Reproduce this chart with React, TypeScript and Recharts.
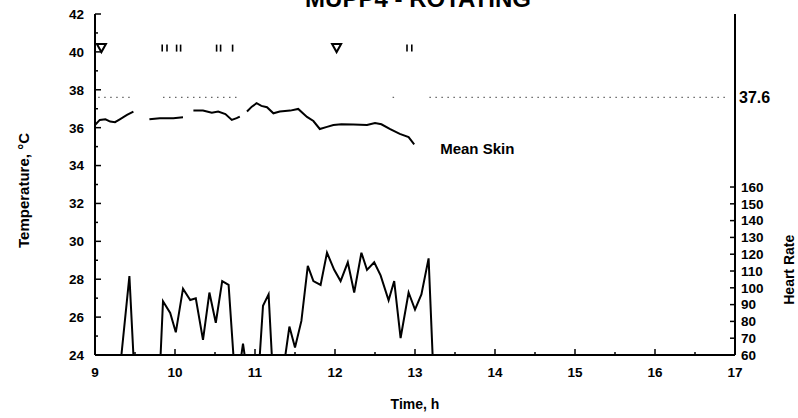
import React from "react";
import {
  ComposedChart,
  Line,
  Scatter,
  XAxis,
  YAxis,
  ReferenceLine,
  ReferenceDot,
} from "recharts";

const FONT = '"Liberation Sans", Arial, sans-serif';

// ---- tick labels ----
const timeTicks = [9, 9.5, 10, 10.5, 11, 11.5, 12, 12.5, 13, 13.5, 14, 14.5, 15, 15.5, 16, 16.5, 17];
const tempTicks = [24, 25, 26, 27, 28, 29, 30, 31, 32, 33, 34, 35, 36, 37, 38, 39, 40, 41, 42];
const hrTicks = [60, 70, 80, 90, 100, 110, 120, 130, 140, 150, 160];

// ---- heart rate (right axis) ----
const hrTimes = [
  9.0, 9.33, 9.43, 9.48, 9.82, 9.85, 9.94, 10.01, 10.1, 10.19, 10.26, 10.35, 10.43, 10.51, 10.59,
  10.67, 10.73, 10.83, 10.85, 10.87, 11.06, 11.1, 11.17, 11.21, 11.38, 11.43, 11.5, 11.58, 11.66,
  11.73, 11.82, 11.9, 11.99, 12.07, 12.16, 12.24, 12.33, 12.4, 12.49, 12.57, 12.67, 12.74, 12.82,
  12.92, 13.0, 13.08, 13.17, 13.22, 17.0,
];
const hrValues = [
  60, 60, 107, 60, 60, 92, 85, 73.5, 99.5, 92.7, 93.8, 69, 97.2, 79.2, 104,
  101.7, 60, 60, 66.8, 60, 60, 89.3, 96.1, 60, 60, 76.9, 64.5, 80.3, 113,
  104, 101.7, 120.9, 110.7, 104, 115.2, 97.2, 120.9, 110.7, 115.2, 107.4, 92.6, 104, 70.1,
  97.2, 87, 96.1, 117.5, 60, 60,
];

// ---- mean skin temperature (left axis), null = gap ----
const skinTimes = [
  9.0, 9.06, 9.13, 9.19, 9.25, 9.31, 9.4, 9.48, 9.58, 9.68, 9.81, 9.98, 10.1, 10.17, 10.23, 10.35,
  10.46, 10.54, 10.63, 10.71, 10.77, 10.81, 10.85, 10.9, 10.96, 11.02, 11.08, 11.15, 11.23, 11.31,
  11.44, 11.54, 11.65, 11.73, 11.81, 11.9, 11.98, 12.08, 12.23, 12.4, 12.5, 12.58, 12.69, 12.81,
  12.92, 12.99,
];
const skinValues = [
  36.14, 36.41, 36.44, 36.32, 36.29, 36.44, 36.67, 36.85, null, 36.44, 36.5, 36.5, 36.55, null, 36.9, 36.9,
  36.79, 36.85, 36.72, 36.41, 36.5, 36.58, null, 36.85, 37.11, 37.29, 37.15, 37.08, 36.76, 36.85,
  36.9, 36.99, 36.57, 36.35, 35.93, 36.04, 36.14, 36.18, 36.17, 36.14, 36.25, 36.18, 35.92, 35.67,
  35.5, 35.12,
];

// ---- 37.6 reference (dotted, with gaps) ----
const setpoint = 37.6;
const setpointTimes = [9.04, 9.44, 9.6, 9.85, 10.78, 11.0, 12.72, 12.78, 12.9, 13.18, 16.92];
const setpointValues = [37.6, 37.6, null, 37.6, 37.6, null, 37.6, 37.6, null, 37.6, 37.6];

// ---- event markers near 40 °C ----
const markerLevel = 40.2;
const triangleTimes = [9.08, 12.02];
const tickMarkTimes = [9.84, 9.9, 10.02, 10.07, 10.52, 10.57, 10.72, 12.9, 12.96];

const hrData = hrTimes.map((t, i) => ({ t, hr: hrValues[i] }));
const skinData = skinTimes.map((t, i) => ({ t, T: skinValues[i] }));
const setpointData = setpointTimes.map((t, i) => ({ t, T: setpointValues[i] }));
const triangleData = triangleTimes.map((t) => ({ t, v: markerLevel }));
const tickMarkData = tickMarkTimes.map((t) => ({ t, v: markerLevel }));

const BOTTOM_MARGIN = 12;
const LEFT_MARGIN = 11;
const RIGHT_MARGIN = 6;
const TICK_FONT = { fontFamily: FONT, fontWeight: 700, fontSize: 13.5 };

const BottomTick = (p: any) => {
  const v = p.payload.value;
  const axisY = p.y - BOTTOM_MARGIN;
  const major = Number.isInteger(v);
  return (
    <g>
      <line x1={p.x} x2={p.x} y1={axisY} y2={axisY - (major ? 6 : 3)} stroke="#000" strokeWidth={1.5} />
      {major && (
        <text x={p.x} y={p.y} dy="0.72em" textAnchor="middle" style={TICK_FONT} fill="#000">
          {v}
        </text>
      )}
    </g>
  );
};

const TopTick = (p: any) => {
  const v = p.payload.value;
  if (!Number.isInteger(v)) return <g />;
  return <line x1={p.x} x2={p.x} y1={p.y} y2={p.y + 5} stroke="#000" strokeWidth={1.5} />;
};

const LeftTick = (p: any) => {
  const v = p.payload.value;
  const axisX = p.x + LEFT_MARGIN;
  const major = v % 2 === 0;
  return (
    <g>
      <line x1={axisX} x2={axisX + (major ? 6 : 3)} y1={p.y} y2={p.y} stroke="#000" strokeWidth={1.5} />
      {major && (
        <text x={p.x} y={p.y} dy="0.36em" textAnchor="end" style={TICK_FONT} fill="#000">
          {v}
        </text>
      )}
    </g>
  );
};

const RightTick = (p: any) => {
  const v = p.payload.value;
  const axisX = p.x - RIGHT_MARGIN;
  return (
    <g>
      <line x1={axisX} x2={axisX - 5} y1={p.y} y2={p.y} stroke="#000" strokeWidth={1.5} />
      <text x={p.x} y={p.y} dy="0.36em" textAnchor="start" style={TICK_FONT} fill="#000">
        {v}
      </text>
    </g>
  );
};

const Triangle = (p: any) => (
  <polygon
    points={`${p.cx - 4.5},${p.cy - 4} ${p.cx + 4.5},${p.cy - 4} ${p.cx},${p.cy + 4}`}
    fill="#fff"
    stroke="#000"
    strokeWidth={2}
  />
);

const TickMark = (p: any) => (
  <line x1={p.cx} x2={p.cx} y1={p.cy - 3.5} y2={p.cy + 3.5} stroke="#000" strokeWidth={1.6} />
);

export default function App() {
  return (
    <div style={{ position: "absolute", left: 0, top: 0, width: 798, height: 418, background: "#fff", overflow: "hidden" }}>
      <ComposedChart width={798} height={418} margin={{ top: 14, right: 0, bottom: 7, left: 5 }}>
        <XAxis
          xAxisId="b"
          dataKey="t"
          type="number"
          domain={[9, 17]}
          ticks={timeTicks}
          interval={0}
          height={56}
          tickSize={0}
          tickMargin={BOTTOM_MARGIN}
          tickLine={false}
          axisLine={{ stroke: "#000", strokeWidth: 2 }}
          tick={BottomTick}
          label={{
            content: (lp: any) => {
              const vb = lp.viewBox;
              return (
                <text x={vb.x + vb.width / 2} y={vb.y + 54} textAnchor="middle" fontFamily={FONT} fontWeight="bold" fontSize={14} fill="#000">
                  Time, h
                </text>
              );
            },
          }}
        />
        <XAxis
          xAxisId="top"
          dataKey="t"
          type="number"
          orientation="top"
          domain={[9, 17]}
          ticks={timeTicks}
          interval={0}
          height={0}
          tickSize={0}
          tickMargin={0}
          tickLine={false}
          axisLine={{ stroke: "#000", strokeWidth: 2 }}
          tick={TopTick}
        />
        <YAxis
          yAxisId="temp"
          type="number"
          domain={[24, 42]}
          ticks={tempTicks}
          interval={0}
          width={90}
          tickSize={0}
          tickMargin={LEFT_MARGIN}
          tickLine={false}
          axisLine={{ stroke: "#000", strokeWidth: 2 }}
          tick={LeftTick}
          label={{
            content: (lp: any) => {
              const vb = lp.viewBox;
              const cx = vb.x + 18;
              const cy = vb.y + vb.height / 2 + 6;
              return (
                <text x={cx} y={cy} transform={`rotate(-90, ${cx}, ${cy})`} textAnchor="middle" dominantBaseline="central" fontFamily={FONT} fontWeight="bold" fontSize={15} fill="#000">
                  Temperature, °C
                </text>
              );
            },
          }}
        />
        <YAxis
          yAxisId="hr"
          orientation="right"
          type="number"
          domain={[60, 263]}
          ticks={hrTicks}
          interval={0}
          width={63}
          tickSize={0}
          tickMargin={RIGHT_MARGIN}
          tickLine={false}
          axisLine={{ stroke: "#000", strokeWidth: 2 }}
          tick={RightTick}
          label={{
            content: (lp: any) => {
              const vb = lp.viewBox;
              const cx = vb.x + vb.width - 9;
              const cy = vb.y + vb.height * 0.75;
              return (
                <text x={cx} y={cy} transform={`rotate(-90, ${cx}, ${cy})`} textAnchor="middle" dominantBaseline="central" fontFamily={FONT} fontWeight="bold" fontSize={14} fill="#000">
                  Heart Rate
                </text>
              );
            },
          }}
        />

        <Line
          xAxisId="b"
          yAxisId="temp"
          data={setpointData}
          dataKey="T"
          type="linear"
          stroke="#666"
          strokeWidth={1.2}
          strokeDasharray="1.5 4.5"
          dot={false}
          connectNulls={false}
          isAnimationActive={false}
        />
        <Line
          xAxisId="b"
          yAxisId="hr"
          data={hrData}
          dataKey="hr"
          type="linear"
          stroke="#000"
          strokeWidth={2}
          dot={false}
          isAnimationActive={false}
        />
        <Line
          xAxisId="b"
          yAxisId="temp"
          data={skinData}
          dataKey="T"
          type="linear"
          stroke="#000"
          strokeWidth={2}
          dot={false}
          connectNulls={false}
          isAnimationActive={false}
        />
        <Scatter xAxisId="b" yAxisId="temp" data={triangleData} dataKey="v" shape={Triangle} isAnimationActive={false} />
        <Scatter xAxisId="b" yAxisId="temp" data={tickMarkData} dataKey="v" shape={TickMark} isAnimationActive={false} />

        <ReferenceLine
          xAxisId="b"
          yAxisId="temp"
          y={setpoint}
          stroke="none"
          strokeOpacity={0}
          label={{
            content: (lp: any) => {
              const vb = lp.viewBox;
              return (
                <text x={vb.x + vb.width + 4} y={vb.y} dy="0.36em" textAnchor="start" fontFamily={FONT} fontWeight="bold" fontSize={16} fill="#000">
                  37.6
                </text>
              );
            },
          }}
        />
        <ReferenceDot
          xAxisId="b"
          yAxisId="temp"
          x={skinTimes[skinTimes.length - 1]}
          y={skinValues[skinValues.length - 1] as number}
          r={0}
          fill="none"
          stroke="none"
          label={{
            content: (lp: any) => {
              const vb = lp.viewBox;
              return (
                <text x={vb.x + 26} y={vb.y + 4} dy="0.36em" textAnchor="start" fontFamily={FONT} fontWeight="bold" fontSize={15} fill="#000">
                  Mean Skin
                </text>
              );
            },
          }}
        />
      </ComposedChart>
      <svg width={798} height={418} style={{ position: "absolute", left: 0, top: 0, pointerEvents: "none" }}>
        <text x={418} y={7} textAnchor="middle" fontFamily={FONT} fontWeight="bold" fontSize={24} fill="#000">
          MUPP4 - ROTATING
        </text>
      </svg>
    </div>
  );
}
